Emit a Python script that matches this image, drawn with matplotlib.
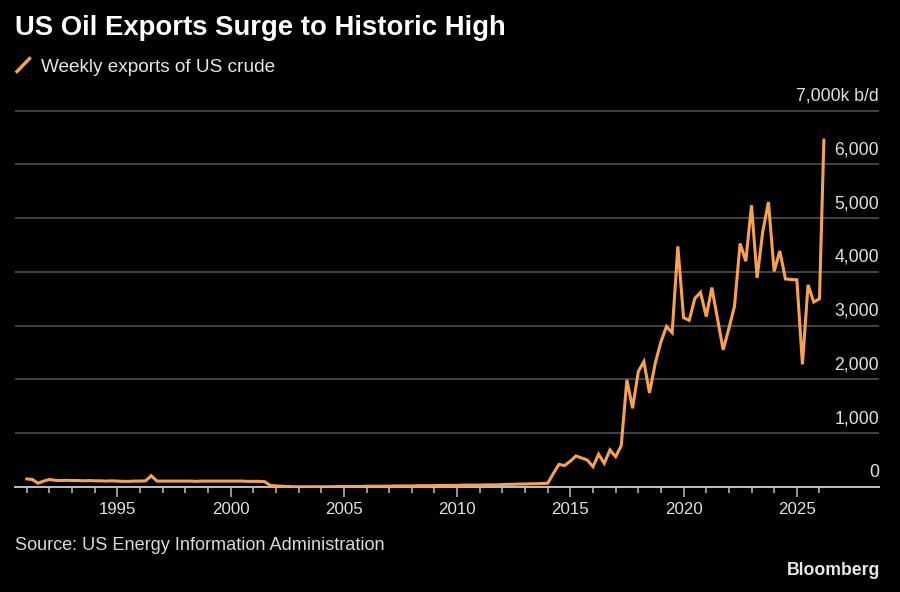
import matplotlib
matplotlib.use("Agg")
from matplotlib import pyplot as plt
import matplotlib.dates as mdates
import matplotlib.ticker as mticker
import matplotlib.transforms as mtransforms
from matplotlib.lines import Line2D
import pandas as pd

plt.rcParams["font.family"] = ["Liberation Sans", "DejaVu Sans"]

# quarterly readings, thousand barrels per day (last point = latest week)
exports = [
    150, 140, 70, 110,      # 1991
    140, 125, 120, 125,     # 1992
    120, 120, 115, 120,     # 1993
    115, 115, 110, 115,     # 1994
    110, 105, 105, 110,     # 1995
    110, 115, 210, 110,     # 1996
    110, 110, 110, 110,     # 1997
    110, 110, 105, 110,     # 1998
    110, 110, 110, 110,     # 1999
    110, 110, 110, 105,     # 2000
    105, 105, 100, 30,      # 2001
    20, 15, 10, 5,          # 2002
    5, 5, 5, 5,             # 2003
    5, 5, 5, 10,            # 2004
    10, 10, 10, 10,         # 2005
    15, 15, 15, 15,         # 2006
    15, 20, 20, 20,         # 2007
    20, 25, 25, 25,         # 2008
    25, 30, 30, 30,         # 2009
    30, 35, 35, 35,         # 2010
    35, 40, 40, 40,         # 2011
    45, 50, 50, 55,         # 2012
    55, 60, 60, 65,         # 2013
    70, 250, 420, 400,      # 2014
    480, 577, 540, 503,     # 2015
    378, 609, 441, 689,     # 2016
    564, 769, 1993, 1465,   # 2017
    2147, 2333, 1750, 2300, # 2018
    2700, 2985, 2870, 4475, # 2019
    3150, 3100, 3510, 3620, # 2020
    3170, 3710, 3130, 2550, # 2021
    2950, 3360, 4530, 4200, # 2022
    5240, 3890, 4750, 5300, # 2023
    4010, 4390, 3870, 3860, # 2024
    3855, 2280, 3760, 3440, # 2025
    3500, 6450,             # 2026
]
dates = list(pd.date_range("1991-01-01", "2026-01-01", freq="QS")) + [pd.Timestamp("2026-03-13")]

y_ticks = [0, 1000, 2000, 3000, 4000, 5000, 6000, 7000]
y_labels = ["0", "1,000", "2,000", "3,000", "4,000", "5,000", "6,000", "7,000k b/d"]
minor_years = list(range(1991, 2027))

orange = "#f7a24f"
bg = "#000000"

fig = plt.figure(figsize=(9, 5.92), dpi=100, facecolor=bg)
ax = fig.add_axes([15 / 900, 1 - 487 / 592, 864 / 900, 381.7 / 592], facecolor=bg)

ax.plot(dates, exports, color=orange, lw=2.2, solid_joinstyle="miter", zorder=3)

ax.set_ylim(0, 7100)
ax.set_xlim(pd.Timestamp("1990-06-25"), pd.Timestamp("2028-08-18"))

ax.set_yticks(y_ticks)
ax.yaxis.grid(True, color="#4f4f4f", lw=1.2)
ax.tick_params(axis="y", length=0, labelleft=False)
ax.set_axisbelow(True)

trans = mtransforms.blended_transform_factory(ax.transAxes, ax.transData)
trans = mtransforms.offset_copy(trans, fig=fig, x=0, y=10, units="dots")
for v, lab in zip(y_ticks, y_labels):
    ax.text(1.0, v, lab, transform=trans, ha="right", va="baseline",
            color="#e0e0e0", fontsize=12.7)

ax.xaxis.set_major_locator(mdates.YearLocator(5))
ax.xaxis.set_major_formatter(mdates.DateFormatter("%Y"))
minor_pos = mdates.date2num([pd.Timestamp(f"{y}-01-01") for y in minor_years])
ax.xaxis.set_minor_locator(mticker.FixedLocator(minor_pos))
ax.tick_params(axis="x", which="major", length=7.2, width=1.1, color="#bfbfbf",
               labelcolor="#e0e0e0", labelsize=12.2, pad=3.4)
ax.tick_params(axis="x", which="minor", length=4.2, width=1.1, color="#bfbfbf")

for s in ["top", "left", "right"]:
    ax.spines[s].set_visible(False)
ax.spines["bottom"].set_color("#bfbfbf")
ax.spines["bottom"].set_linewidth(1.4)
ax.spines["bottom"].set_zorder(2)

# header
fig.text(15 / 900, 1 - 35 / 592, "US Oil Exports Surge to Historic High", color="white",
         fontsize=19.8, fontweight="bold", ha="left", va="baseline")
fig.add_artist(Line2D([17 / 900, 29.5 / 900], [1 - 71.5 / 592, 1 - 58.5 / 592],
                      color=orange, lw=2.4, transform=fig.transFigure))
fig.text(40.7 / 900, 1 - 71.7 / 592, "Weekly exports of US crude", color="#e6e6e6",
         fontsize=13.7, ha="left", va="baseline")

# footer
fig.text(15 / 900, 1 - 549.5 / 592, "Source: US Energy Information Administration",
         color="#d9d9d9", fontsize=13.1, ha="left", va="baseline")
fig.text(880 / 900, 1 - 575 / 592, "Bloomberg", color="#e6e6e6", fontsize=12.7,
         fontweight="bold", ha="right", va="baseline")

plt.savefig("out.png", dpi=100, facecolor=bg)
